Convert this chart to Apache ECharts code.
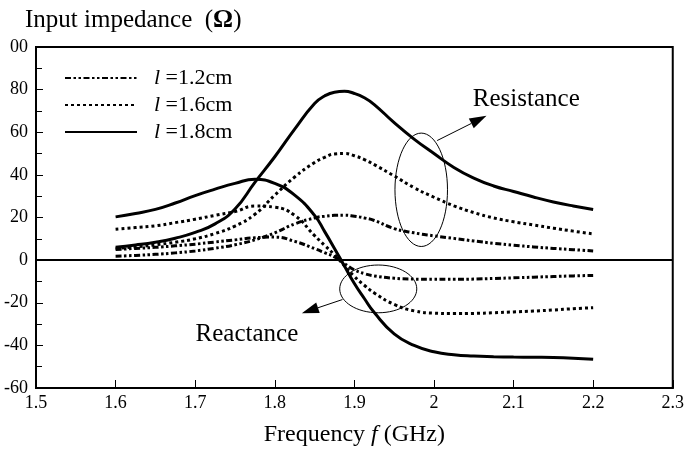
<!DOCTYPE html>
<html lang="en">
<head>
<meta charset="utf-8" />
<script src="https://cdn.jsdelivr.net/npm/echarts@6/dist/echarts.min.js"></script>
</head>
<body style="margin:0">
<div id="container" style="width:687px;height:452px"></div>
<script>
// frequency samples (GHz), a bit denser around the peaks
const freq = [1.6, 1.625, 1.65, 1.675, 1.7, 1.725, 1.75, 1.775, 1.8, 1.825, 1.85, 1.8625, 1.875, 1.8875, 1.9,
  1.9125, 1.925, 1.95, 1.975, 2.0, 2.025, 2.05, 2.075, 2.1, 2.125, 2.15, 2.175, 2.2];
// resistance / reactance (ohm) for each length
const r12 = [1.8, 2.2, 2.7, 3.4, 4.3, 5.6, 7.2, 9.5, 12.8, 17, 19.8, 20.6, 21, 21.1, 20.6,
  19.8, 18.6, 14.8, 12.8, 11.4, 10.2, 9, 7.9, 7, 6.2, 5.5, 4.9, 4.3];
const x12 = [5, 5.5, 6, 6.7, 7.5, 8.5, 9.5, 10.5, 10.8, 8.8, 5.4, 3.5, 1.5, -1.6, -4.6,
  -6.3, -7.4, -8.5, -8.9, -9, -9, -8.9, -8.6, -8.3, -8, -7.7, -7.4, -7.2];
const r16 = [5.5, 6.2, 7.2, 8.4, 10, 12.5, 16, 21.5, 30.5, 39, 45.8, 48.2, 49.8, 50, 49,
  47.2, 44.8, 39.5, 34, 29.5, 25.5, 22.3, 19.8, 18, 16.5, 15, 13.6, 12.3];
const x16 = [14.5, 15.3, 16.1, 17.6, 19.2, 21, 22.8, 25.4, 24.8, 21, 11.5, 7, 2.5, -2.6, -7.7,
  -11.8, -15.4, -20.8, -23.8, -24.9, -25.1, -25, -24.7, -24.3, -23.9, -23.4, -22.8, -22.3];
const r18 = [6.1, 7.1, 8.4, 10.3, 13, 17, 24, 36.5, 48.5, 61.5, 73.5, 77, 78.8, 79.2, 78.2,
  76.2, 73, 64.5, 56.8, 50, 43.5, 38.5, 34.8, 32.2, 29.6, 27.3, 25.4, 23.8];
const x18 = [20.3, 21.9, 23.8, 26.8, 30.3, 33.3, 36, 37.9, 36, 30.5, 21, 13.5, 5.5, -2.8, -11,
  -18, -24.6, -34.6, -40, -43, -44.4, -45, -45.3, -45.5, -45.6, -45.7, -46, -46.5];
const lengths = ["l =1.2cm", "l =1.6cm", "l =1.8cm"];
const yTicks = { min: -60, max: 100, step: 20 };
const xTicks = { min: 1.5, max: 2.3, step: 0.1 };

const font = "Liberation Serif";
const dashDot = [6, 2.5, 2.5, 2.5, 2.5, 2.5];
const dots = [3, 3];

var dom = document.getElementById("container");
var myChart = echarts.init(dom, null, { renderer: "canvas" });

function pairs(vals) {
  return freq.map((f, i) => [f, vals[i]]);
}
function lineSeries(name, vals, type) {
  return {
    name: name,
    type: "line",
    data: pairs(vals),
    smooth: 0.5,
    symbol: "none",
    lineStyle: { color: "#000", width: 3, type: type, cap: "butt" },
    itemStyle: { color: "#000" },
    z: 3,
  };
}

var series = [
  lineSeries(lengths[0], r12, dashDot),
  lineSeries(lengths[0], x12, dashDot),
  lineSeries(lengths[1], r16, dots),
  lineSeries(lengths[1], x16, dots),
  lineSeries(lengths[2], r18, "solid"),
  lineSeries(lengths[2], x18, "solid"),
];
series[5].markLine = {
  silent: true,
  symbol: "none",
  label: { show: false },
  lineStyle: { color: "#000", width: 2, type: "solid" },
  data: [{ yAxis: 0 }],
};

var option = {
  animation: false,
  backgroundColor: "#fff",
  textStyle: { fontFamily: font, color: "#000" },
  title: {
    text: "{a|Input impedance  (}{b|Ω}{a|)}",
    left: 20,
    top: 3,
    textStyle: {
      fontWeight: "normal",
      rich: {
        a: { fontFamily: font, fontSize: 25, fontWeight: "normal", color: "#000" },
        b: { fontFamily: font, fontSize: 25, fontWeight: "bold", color: "#000" },
      },
    },
  },
  legend: {
    data: lengths,
    orient: "vertical",
    left: 59,
    top: 62,
    itemWidth: 72,
    itemHeight: 14,
    itemGap: 5,
    itemStyle: { opacity: 0 },
    formatter: (n) => "{i|l}{t|" + n.slice(1) + "}",
    textStyle: {
      rich: {
        i: { fontFamily: font, fontSize: 22, fontStyle: "italic", color: "#000", padding: [0, 0, 0, 12] },
        t: { fontFamily: font, fontSize: 22, color: "#000" },
      },
    },
  },
  grid: {
    left: 36,
    right: 12,
    top: 47,
    bottom: 59,
    show: true,
    borderColor: "#000",
    borderWidth: 2,
  },
  xAxis: {
    type: "value",
    min: xTicks.min,
    max: xTicks.max,
    interval: xTicks.step,
    name: "{a|Frequency }{i|f}{a| (GHz)}",
    nameLocation: "middle",
    nameGap: 35,
    nameTextStyle: {
      rich: {
        a: { fontFamily: font, fontSize: 24, color: "#000" },
        i: { fontFamily: font, fontSize: 24, fontStyle: "italic", color: "#000" },
      },
    },
    axisLine: { show: true, onZero: false, lineStyle: { color: "#000", width: 2 } },
    axisTick: { inside: true, length: 8, lineStyle: { color: "#000", width: 1 } },
    axisLabel: { fontFamily: font, fontSize: 18, color: "#000", margin: 6 },
    splitLine: { show: false },
  },
  yAxis: {
    type: "value",
    min: yTicks.min,
    max: yTicks.max,
    interval: yTicks.step,
    axisLine: { show: true, lineStyle: { color: "#000", width: 2 } },
    axisTick: { inside: true, length: 7, lineStyle: { color: "#000", width: 1 } },
    minorTick: { show: true, splitNumber: 2, length: 6, lineStyle: { color: "#000", width: 1 } },
    axisLabel: {
      fontFamily: font,
      fontSize: 18,
      color: "#000",
      margin: 8,
      formatter: (v) => (v === 100 ? "00" : String(v)),
    },
    splitLine: { show: false },
  },
  series: series,
};

myChart.setOption(option);

// annotations in data units: ellipse centre + half sizes, arrow start/end, label centre
const resNote = { c: [1.984, 33], r: [0.033, 26.6], from: [2.004, 56.1], to: [2.066, 67.7], text: "Resistance", at: [2.116, 75.5] };
const reaNote = { c: [1.93, -13.5], r: [0.0484, 11.2], from: [1.885, -18.5], to: [1.834, -24.9], text: "Reactance", at: [1.765, -35] };

function px(p) {
  return myChart.convertToPixel({ gridIndex: 0 }, p);
}
function note(n) {
  const c = px(n.c);
  const e = px([n.c[0] + n.r[0], n.c[1] + n.r[1]]);
  const a = px(n.from), b = px(n.to);
  const dx = b[0] - a[0], dy = b[1] - a[1];
  const len = Math.hypot(dx, dy), ux = dx / len, uy = dy / len;
  const hl = 17, hw = 5.5;
  const base = [b[0] - ux * hl, b[1] - uy * hl];
  const t = px(n.at);
  return [
    { type: "ellipse", shape: { cx: c[0], cy: c[1], rx: e[0] - c[0], ry: c[1] - e[1] }, style: { fill: null, stroke: "#000", lineWidth: 1 }, z: 10 },
    { type: "line", shape: { x1: a[0], y1: a[1], x2: base[0], y2: base[1] }, style: { stroke: "#000", lineWidth: 1 }, z: 10 },
    { type: "polygon", shape: { points: [b, [base[0] - uy * hw, base[1] + ux * hw], [base[0] + uy * hw, base[1] - ux * hw]] }, style: { fill: "#000" }, z: 10 },
    { type: "text", x: t[0], y: t[1], style: { text: n.text, fontFamily: font, fontSize: 25, fill: "#000", align: "center", verticalAlign: "middle" }, z: 10 },
  ];
}

myChart.setOption({ graphic: note(resNote).concat(note(reaNote)) });

window.addEventListener("resize", myChart.resize);
</script>
</body>
</html>
